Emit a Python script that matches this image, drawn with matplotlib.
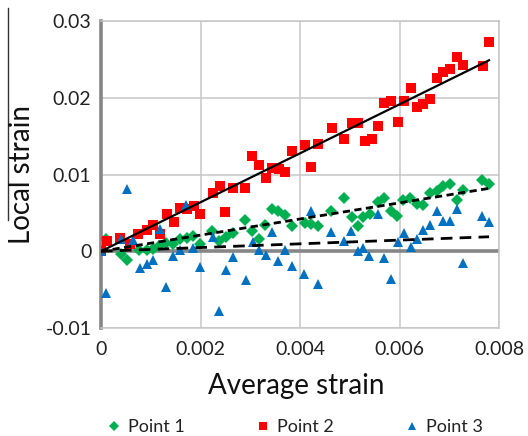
import numpy as np
import matplotlib
matplotlib.use("Agg")
import matplotlib.pyplot as plt
from matplotlib.lines import Line2D

plt.rcParams["font.family"] = ["Lato", "DejaVu Sans"]

# ---------------------------------------------------------------------------
# Data
# ---------------------------------------------------------------------------

p1_x = [0.00011, 0.0004, 0.00052, 0.00077, 0.00092, 0.00105, 0.00117, 0.0013,
        0.00145, 0.00159, 0.00172, 0.00184, 0.00198, 0.00224, 0.00238, 0.00251,
        0.00265, 0.00289, 0.00303, 0.00318, 0.0033, 0.00343, 0.00356, 0.0037,
        0.00383, 0.0041, 0.00423, 0.00437, 0.00462, 0.00489, 0.00504, 0.00516,
        0.00527, 0.00541, 0.00556, 0.00569, 0.00583, 0.00594, 0.00608, 0.00621,
        0.00635, 0.00648, 0.00661, 0.00675, 0.00688, 0.00701, 0.00715, 0.00728,
        0.00766, 0.0078]
p1_y = [0.0016, -0.0003, -0.0012, 0.0002, 0.0001, 0.0003, 0.0007, 0.0011,
        0.0009, 0.0016, 0.0017, 0.002, 0.0009, 0.0026, 0.0013, 0.0019,
        0.0024, 0.0041, 0.0027, 0.0016, 0.0034, 0.0055, 0.0053, 0.0047,
        0.0033, 0.0037, 0.0036, 0.0033, 0.0052, 0.007, 0.0045, 0.0033,
        0.0044, 0.0049, 0.0064, 0.007, 0.0053, 0.0046, 0.0067, 0.007,
        0.0062, 0.006, 0.0076, 0.0079, 0.0085, 0.0088, 0.0067, 0.008,
        0.0093, 0.0088]

p2_x = [0.0, 0.00013, 0.00038, 0.00058, 0.00075, 0.00092, 0.00105, 0.00119,
        0.00132, 0.00147, 0.00159, 0.00172, 0.00186, 0.00198, 0.00226, 0.00239,
        0.00249, 0.00265, 0.00289, 0.00304, 0.00317, 0.00331, 0.00343, 0.00357,
        0.0037, 0.00384, 0.00411, 0.00423, 0.00437, 0.00464, 0.00489, 0.00504,
        0.00517, 0.00531, 0.00544, 0.00556, 0.00569, 0.00583, 0.00596, 0.0061,
        0.00623, 0.00635, 0.00648, 0.00661, 0.00675, 0.00688, 0.00702, 0.00715,
        0.00728, 0.00767, 0.0078]
p2_y = [0.0, 0.0013, 0.00175, 0.0009, 0.0022, 0.0028, 0.0034, 0.0022,
        0.0048, 0.0038, 0.0057, 0.0055, 0.0059, 0.0048, 0.0076, 0.0085,
        0.0051, 0.0082, 0.0082, 0.0124, 0.0112, 0.0095, 0.0109, 0.0107,
        0.0103, 0.013, 0.0138, 0.011, 0.014, 0.0161, 0.0146, 0.0167,
        0.0167, 0.0144, 0.0146, 0.0163, 0.0193, 0.0196, 0.0169, 0.0196,
        0.0213, 0.0188, 0.0192, 0.0198, 0.0226, 0.0233, 0.0237, 0.0253,
        0.0243, 0.0241, 0.0272]

p3_x = [0.0, 0.00011, 0.0004, 0.00052, 0.00065, 0.00078, 0.00092, 0.00105,
        0.00119, 0.00131, 0.00144, 0.00159, 0.00171, 0.00184, 0.00198, 0.00225,
        0.00238, 0.00251, 0.00265, 0.00291, 0.00305, 0.00318, 0.00331, 0.00343,
        0.00356, 0.0037, 0.00383, 0.00409, 0.00423, 0.00436, 0.00462, 0.00489,
        0.00502, 0.00516, 0.00527, 0.00539, 0.00556, 0.00569, 0.00582, 0.00596,
        0.00609, 0.00623, 0.00636, 0.00648, 0.00661, 0.00675, 0.00688, 0.00701,
        0.00715, 0.00728, 0.00766, 0.0078]
p3_y = [0.0, -0.0055, 0.0016, 0.0081, 0.0015, -0.0022, -0.0017, -0.0012,
        0.0029, -0.0046, -0.0006, 0.0002, 0.006, 0.0004, -0.002, 0.0019,
        -0.0078, -0.0024, -0.0008, -0.0037, 0.0012, 0.0002, -0.0005, 0.0025,
        -0.0013, 0.0002, -0.0019, -0.003, 0.0053, -0.0043, 0.0025, 0.0014,
        0.0026, 0.0, 0.0004, -0.0006, 0.0048, -0.0009, -0.0036, 0.0012,
        0.0024, 0.0006, 0.0016, 0.0028, 0.0034, 0.0052, 0.0039, 0.0039,
        0.0055, -0.0015, 0.0046, 0.0038]

x_ticks = [0, 0.002, 0.004, 0.006, 0.008]
x_tick_labels = ["0", "0.002", "0.004", "0.006", "0.008"]
y_ticks = [-0.01, 0, 0.01, 0.02, 0.03]
y_tick_labels = ["-0.01", "0", "0.01", "0.02", "0.03"]

# (label, x, y, marker, size, color, trend linestyle)
_SERIES = [
    ("Point 1", p1_x, p1_y, "D", 6.0, "#00B050", (0, (2.6, 1.6))),
    ("Point 2", p2_x, p2_y, "s", 7.8, "#FF0000", "-"),
    ("Point 3", p3_x, p3_y, "^", 7.8, "#0070C0", (0, (4.2, 2.6))),
]


def origin_trend(x, y):
    """Least squares slope of a trend line forced through the origin."""
    x = np.asarray(x)
    y = np.asarray(y)
    return float((x * y).sum() / (x * x).sum())


fig = plt.figure(figsize=(5.28, 4.36), dpi=100)
ax = fig.add_axes([101 / 528, 1 - 328 / 436, 398 / 528, 307 / 436])

handles = []
for label, xs, ys, marker, ms, color, ls in _SERIES:
    ax.plot(xs, ys, linestyle="none", marker=marker, markersize=ms,
            color=color, markeredgewidth=0, zorder=3)
    handles.append(Line2D([], [], linestyle="none", marker=marker,
                          markersize=ms * 0.8, color=color,
                          markeredgewidth=0, label=label))

# trend lines sit on top of the markers, as in the spreadsheet original
for label, xs, ys, marker, ms, color, ls in _SERIES:
    k = origin_trend(xs, ys)
    xe = max(xs)
    lw = 1.6 if ls == "-" else 2.0
    ax.plot([0, xe], [0, k * xe], color="black", linestyle=ls, linewidth=lw,
            zorder=4)

ax.set_xlim(0, 0.008)
ax.set_ylim(-0.01, 0.03)
ax.set_xticks(x_ticks)
ax.set_xticklabels(x_tick_labels)
ax.set_yticks(y_ticks)
ax.set_yticklabels(y_tick_labels)
ax.tick_params(length=0, labelsize=14, colors="#222222", pad=7)
ax.tick_params(axis="x", pad=9)

ax.grid(True, color="#C6C6C6", linewidth=1.1, zorder=0)
ax.set_axisbelow(True)
for side in ("top", "right", "bottom"):
    ax.spines[side].set_color("#C6C6C6")
    ax.spines[side].set_linewidth(1.1)
ax.spines["left"].set_color("#868686")
ax.spines["left"].set_linewidth(2.6)
ax.axhline(0, color="#868686", linewidth=2.6, zorder=1)

fig.text(296 / 528, 1 - 386 / 436, "Average strain", ha="center",
         va="center", fontsize=20, color="#111111")
fig.text(22 / 528, 1 - 174 / 436, "Local strain", ha="center", va="center",
         rotation=90, fontsize=20, color="#111111")
fig.add_artist(Line2D([8 / 528, 8 / 528], [1 - 8 / 436, 1 - 220 / 436],
                      color="#333333", linewidth=1.0))

fig.legend(handles=handles, loc="center", bbox_to_anchor=(294 / 528, 1 - 427 / 436),
           ncol=3, frameon=False, fontsize=13, handletextpad=0.3,
           columnspacing=3.8, handlelength=1.0, labelcolor="#222222")

fig.savefig("out.png", dpi=100)
